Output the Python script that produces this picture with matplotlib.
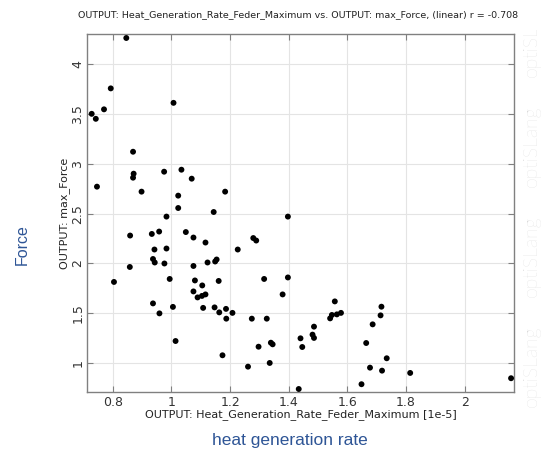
import matplotlib
matplotlib.use("Agg")
import matplotlib.pyplot as plt

heat_rate = [0.846, 0.793, 0.728, 0.742, 0.770, 1.007, 0.869, 0.871, 0.869, 0.746,
             0.898, 0.975, 1.034, 1.069, 1.023, 1.023, 1.144, 0.983, 1.183,
             0.859, 0.933, 0.958, 1.049, 1.075, 1.116, 1.226, 0.942, 0.983,
             0.858, 0.804, 0.937, 0.943, 0.976, 1.075, 1.123, 1.149, 1.154,
             0.994, 1.080, 1.161, 1.105, 1.075, 1.116, 1.104, 1.089, 0.937,
             1.005, 1.108, 1.147, 1.186, 0.959, 1.163, 1.208, 1.187, 1.014, 1.174,
             1.397, 1.279, 1.289, 1.316, 1.397, 1.379, 1.557, 1.716, 1.578,
             1.547, 1.564, 1.541, 1.713, 1.274, 1.325, 1.686, 1.486, 1.481,
             1.486, 1.440, 1.339, 1.345, 1.664, 1.297, 1.446, 1.734, 1.335,
             1.261, 1.677, 1.718, 1.814, 2.158, 1.648, 1.434]
max_force = [4.26, 3.755, 3.50, 3.45, 3.545, 3.61, 3.12, 2.90, 2.86, 2.77,
             2.72, 2.92, 2.94, 2.85, 2.68, 2.556, 2.516, 2.47, 2.72,
             2.28, 2.296, 2.32, 2.315, 2.26, 2.21, 2.14, 2.14, 2.15,
             1.965, 1.815, 2.045, 2.01, 2.00, 1.975, 2.01, 2.02, 2.04,
             1.845, 1.83, 1.825, 1.78, 1.72, 1.69, 1.675, 1.66, 1.60,
             1.565, 1.555, 1.56, 1.545, 1.50, 1.51, 1.505, 1.447, 1.223, 1.08,
             2.47, 2.255, 2.23, 1.845, 1.86, 1.69, 1.62, 1.567, 1.505,
             1.484, 1.49, 1.45, 1.48, 1.447, 1.447, 1.39, 1.367, 1.287,
             1.254, 1.25, 1.206, 1.19, 1.203, 1.166, 1.163, 1.05, 1.003,
             0.966, 0.956, 0.926, 0.903, 0.85, 0.79, 0.742]

x_ticks = [0.8, 1.0, 1.2, 1.4, 1.6, 1.8, 2.0]
x_tick_labels = ["0.8", "1", "1.2", "1.4", "1.6", "1.8", "2"]
y_ticks = [1.0, 1.5, 2.0, 2.5, 3.0, 3.5, 4.0]
y_tick_labels = ["1", "1.5", "2", "2.5", "3", "3.5", "4"]

title = "OUTPUT: Heat_Generation_Rate_Feder_Maximum vs. OUTPUT: max_Force, (linear) r = -0.708"
watermark_word = "optiSLang"

fig = plt.figure(figsize=(5.43, 4.5), dpi=100)
ax = fig.add_axes([87/543, 1-392/450, (514-87)/543, (392-34)/450])

ax.scatter(heat_rate, max_force, s=18, c="black", edgecolors="none", zorder=3)
ax.set_xlim(0.712, 2.168)
ax.set_ylim(0.712, 4.30)
ax.set_xticks(x_ticks)
ax.set_xticklabels(x_tick_labels)
ax.set_yticks(y_ticks)
ax.set_yticklabels(y_tick_labels, rotation=90, va="center")
ax.grid(True, color="#e4e4e4", linewidth=0.8, zorder=0)
ax.set_axisbelow(True)
for sp in ax.spines.values():
    sp.set_color("#808080")
    sp.set_linewidth(1.0)
ax.tick_params(direction="in", length=4, color="#808080", top=True, right=True,
               labelsize=9, labelcolor="#333333", pad=2)
ax.tick_params(axis="x", pad=3)

ax.set_xlabel("OUTPUT: Heat_Generation_Rate_Feder_Maximum [1e-5]", fontsize=8,
              color="#222222", labelpad=0)
ax.set_ylabel("OUTPUT: max_Force", fontsize=8, color="#222222", labelpad=1)
fig.text(298/543, 1-15/450, title, fontsize=6.8, color="#222222",
         ha="center", va="center")

# watermark in a clipping axes (normal y direction, pixel units from figure top)
wax = fig.add_axes([518/543, 1-412/450, 25/543, (412-30)/450])
wax.set_axis_off()
wax.set_xlim(0, 1)
wax.set_ylim(-412, -30)
for yb in [407, 297, 187, 77]:
    wax.text(0.55, -yb, watermark_word, rotation=90, fontsize=14, color="#d4d4d4",
             ha="center", va="bottom", family="Lato", fontweight="light",
             clip_on=True)

blue = "#2e5596"
fig.text(22/543, 1-245/450, "Force", rotation=90, fontsize=11.5, color=blue,
         ha="center", va="center", family="Liberation Sans")
fig.text(290/543, 1-440/450, "heat generation rate", fontsize=12.5, color=blue,
         ha="center", va="center", family="Liberation Sans")

fig.savefig("out.png", dpi=100)
